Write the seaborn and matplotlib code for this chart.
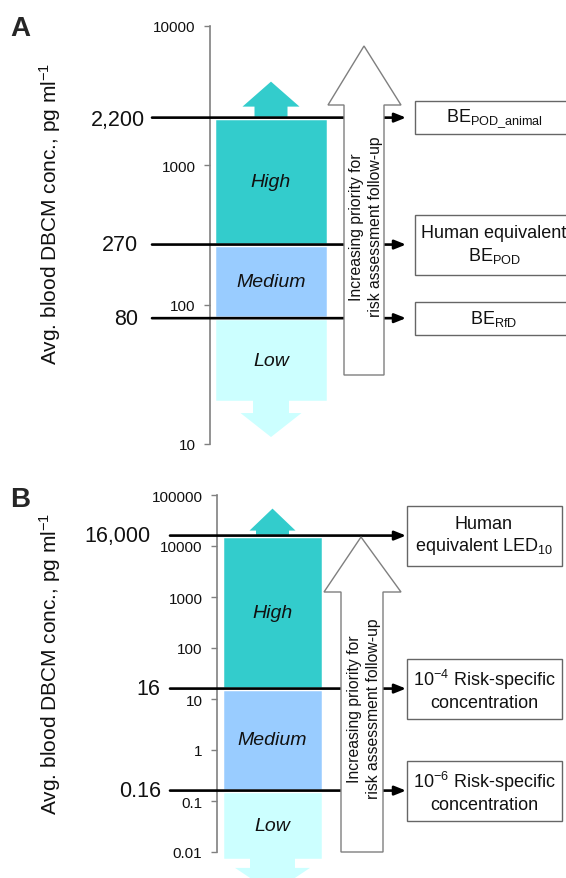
import matplotlib
matplotlib.use("Agg")
import matplotlib.pyplot as plt
import matplotlib.patches as mpatches
import matplotlib.transforms as mtransforms
import matplotlib.ticker as mticker
import seaborn as sns

sns.set_theme(style="ticks")
plt.rcParams['font.family'] = ['Liberation Sans', 'DejaVu Sans']
plt.rcParams['mathtext.fontset'] = 'custom'
plt.rcParams['mathtext.rm'] = 'Liberation Sans'
plt.rcParams['mathtext.it'] = 'Liberation Sans:italic'
plt.rcParams['mathtext.default'] = 'rm'

W, H = 566, 879

# ---- data ----
bands = ["High", "Medium", "Low"]
band_colors = ["#33CCCC", "#99CCFF", "#CCFFFF"]
ylabel = "Avg. blood DBCM conc., pg ml$^{-1}$"
arrow_text = "Increasing priority for\nrisk assessment follow-up"

# panel A: band limits from top of High to bottom of Low
a_edges = [2200, 270, 80, 20]
a_marks = [2200, 270, 80]
a_mark_labels = ["2,200", "270", "80"]
a_boxes = [r"BE$_{\mathrm{POD\_animal}}$",
           "Human equivalent\nBE$_{\mathrm{POD}}$",
           r"BE$_{\mathrm{RfD}}$"]
a_ticks = [10, 100, 1000, 10000]
a_ticklabels = ["10", "100", "1000", "10000"]

# panel B
b_edges = [16000, 16, 0.16, 0.007]
b_marks = [16000, 16, 0.16]
b_mark_labels = ["16,000", "16", "0.16"]
b_boxes = ["Human\nequivalent LED$_{10}$",
           "10$^{-4}$ Risk-specific\nconcentration",
           "10$^{-6}$ Risk-specific\nconcentration"]
b_ticks = [0.01, 0.1, 1, 10, 100, 1000, 10000, 100000]
b_ticklabels = ["0.01", "0.1", "1", "10", "100", "1000", "10000", "100000"]

# ---- layout (pixels) ----
lay_a = dict(letter="A", letter_xy=(10, 36), spine_x=210, top=27, bottom=445,
             ylabel_xy=(63, 214), block=(214, 328), line_x=(152, 406),
             label_right=[145, 138, 138], label_dy=[2, 0, 0],
             up=dict(sw=33, hw=57, sh=11, hh=25), down=dict(sw=36, hw=61, sh=13, hh=24),
             prio=dict(tip=(364, 47), head_y=106, head=(328, 401), shaft=(344, 384), bottom=376,
                       text_xy=(366, 227)),
             box_x=(415, 160), box_tx=494)
lay_b = dict(letter="B", letter_xy=(10, 507), spine_x=217, top=496, bottom=853,
             ylabel_xy=(63, 664), block=(222, 323), line_x=(170, 406),
             label_right=[150, 160, 161], label_dy=[0, 0, 0],
             up=dict(sw=33, hw=46, sh=5, hh=22), down=dict(sw=45, hw=75, sh=10, hh=25),
             prio=dict(tip=(361, 538), head_y=593, head=(324, 401), shaft=(341, 383), bottom=853,
                       text_xy=(364, 709)),
             box_x=(407, 155), box_tx=484)

fig = plt.figure(figsize=(W / 100, H / 100), dpi=100)
PIX = mtransforms.Affine2D().scale(1.0 / W, -1.0 / H).translate(0, 1) + fig.transFigure


def ypix(ax, v):
    fy = fig.transFigure.inverted().transform(ax.transData.transform((ax.get_xlim()[0], v)))[1]
    return (1 - fy) * H


def block_arrow(ax, cx, yb, d, color, sign, z):
    # sign=-1 points up (pixel y decreases), +1 points down
    ys = yb + sign * d["sh"]
    yt = ys + sign * d["hh"]
    pts = [(cx - d["sw"] / 2, yb), (cx - d["sw"] / 2, ys), (cx - d["hw"] / 2, ys), (cx, yt),
           (cx + d["hw"] / 2, ys), (cx + d["sw"] / 2, ys), (cx + d["sw"] / 2, yb)]
    ax.add_patch(mpatches.Polygon(pts, closed=True, transform=PIX, facecolor=color,
                                  edgecolor="none", clip_on=False, zorder=z))


def draw_panel(edges, marks, mark_labels, boxes, ticks, ticklabels, lay):
    sx = lay["spine_x"]
    ax = fig.add_axes([sx / W, 1 - lay["bottom"] / H, (W - sx) / W, (lay["bottom"] - lay["top"]) / H])
    ax.set_xlim(sx, W)
    ax.set_yscale("log")
    ax.set_ylim(ticks[0], ticks[-1])
    ax.set_facecolor("none")
    sns.despine(ax=ax, top=True, right=True, bottom=True)
    ax.spines["left"].set_color("#808080")
    ax.spines["left"].set_linewidth(1.2)
    ax.set_xticks([])
    ax.yaxis.set_major_locator(mticker.FixedLocator(ticks))
    ax.yaxis.set_minor_locator(mticker.NullLocator())
    ax.set_yticklabels(ticklabels)
    ax.tick_params(axis="y", which="major", left=True, direction="out", length=4, width=1,
                   color="#808080", pad=6.5, labelsize=11, labelcolor="#111111")
    ax.set_ylabel(ylabel, fontsize=15, color="#111111")
    ax.yaxis.set_label_coords(*lay["ylabel_xy"], transform=PIX)

    # colour bands
    x0, x1 = lay["block"]
    cx = (x0 + x1) / 2
    tops, bottoms = edges[:-1], edges[1:]
    heights = [t - b for t, b in zip(tops, bottoms)]
    ax.bar([cx] * 3, heights, bottom=bottoms, width=x1 - x0, color=band_colors,
           edgecolor="white", linewidth=2.5, zorder=2, clip_on=False)
    for name, t, b in zip(bands, tops, bottoms):
        ax.text(cx, (t * b) ** 0.5, name, ha="center", va="center", fontsize=14,
                style="italic", color="#111111", zorder=3)

    # up / down arrows of the band column
    block_arrow(ax, cx, ypix(ax, edges[0]), lay["up"], band_colors[0], -1, 1)
    block_arrow(ax, cx, ypix(ax, edges[-1]) - 2, lay["down"], band_colors[2], 1, 2.5)

    # threshold lines, labels and boxes
    lx0, lx1 = lay["line_x"]
    bx0, bw = lay["box_x"]
    for v, lab, rx, dy, box in zip(marks, mark_labels, lay["label_right"], lay["label_dy"], boxes):
        ax.annotate("", xy=(lx1, v), xytext=(lx0, v), annotation_clip=False,
                    arrowprops=dict(arrowstyle="-|>,head_length=0.45,head_width=0.18",
                                    color="black", lw=1.9, shrinkA=0, shrinkB=0,
                                    mutation_scale=15), zorder=4)
        yc = ypix(ax, v)
        ax.text(rx, yc + dy, lab, transform=PIX, ha="right", va="center", fontsize=15.5,
                color="#111111")
        h = 60 if "\n" in box else 33
        ax.add_patch(mpatches.Rectangle((bx0, yc - h / 2), bw, h, transform=PIX, facecolor="white",
                                        edgecolor="#666666", linewidth=1, clip_on=False, zorder=5))
        ax.text(lay["box_tx"], yc, box, transform=PIX, ha="center", va="center", fontsize=13,
                linespacing=1.25, color="#111111", zorder=6)

    # priority arrow
    p = lay["prio"]
    tx, ty = p["tip"]
    pts = [(p["shaft"][0], p["bottom"]), (p["shaft"][0], p["head_y"]), (p["head"][0], p["head_y"]),
           (tx, ty), (p["head"][1], p["head_y"]), (p["shaft"][1], p["head_y"]),
           (p["shaft"][1], p["bottom"])]
    ax.add_patch(mpatches.Polygon(pts, closed=True, transform=PIX, facecolor="white",
                                  edgecolor="#7f7f7f", linewidth=1, clip_on=False, zorder=5))
    ax.text(*p["text_xy"], arrow_text, transform=PIX, rotation=90, ha="center", va="center",
            fontsize=11.3, linespacing=1.35, color="#111111", zorder=6)

    fig.text(*lay["letter_xy"], lay["letter"], transform=PIX, fontsize=20, fontweight="bold",
             ha="left", va="baseline")
    return ax


draw_panel(a_edges, a_marks, a_mark_labels, a_boxes, a_ticks, a_ticklabels, lay_a)
draw_panel(b_edges, b_marks, b_mark_labels, b_boxes, b_ticks, b_ticklabels, lay_b)

fig.savefig("out.png", dpi=100, facecolor="white")
